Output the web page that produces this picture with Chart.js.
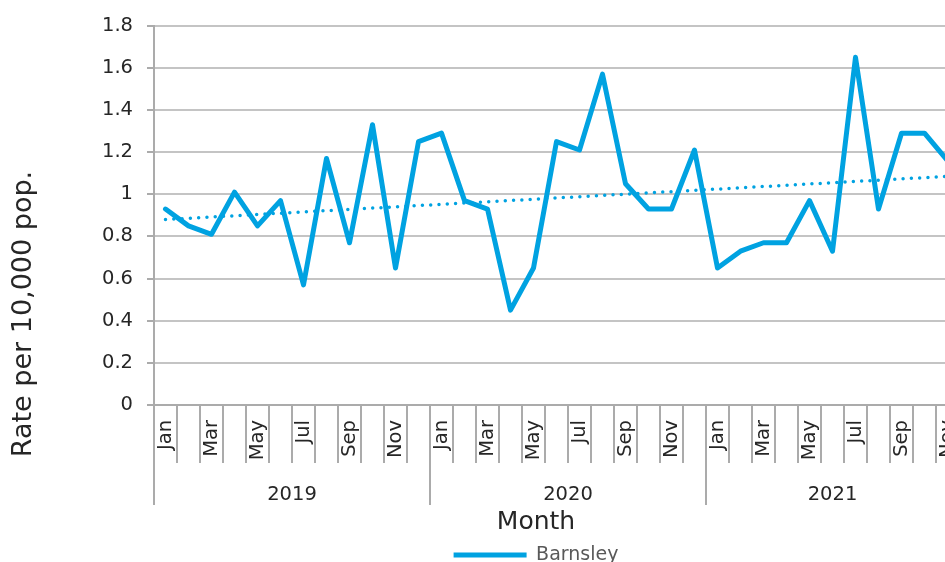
<!DOCTYPE html>
<html lang="en">
<head>
  <meta charset="UTF-8">
  <title>Barnsley - Rate per 10,000 pop.</title>
  <script src="https://cdn.jsdelivr.net/npm/chart.js"></script>
  <style>
    html, body {
      margin: 0;
      padding: 0;
      overflow: hidden;
      background: #fff;
    }
    #wrap {
      width: 1072px;
      height: 562px;
    }
  </style>
</head>
<body>
  <div id="wrap"><canvas id="rateChart" width="1072" height="562"></canvas></div>

  <script>
    // months shown on the axis (Jan 2019 - Nov 2021)
    const months = [
      'Jan 2019', 'Feb 2019', 'Mar 2019', 'Apr 2019', 'May 2019', 'Jun 2019',
      'Jul 2019', 'Aug 2019', 'Sep 2019', 'Oct 2019', 'Nov 2019', 'Dec 2019',
      'Jan 2020', 'Feb 2020', 'Mar 2020', 'Apr 2020', 'May 2020', 'Jun 2020',
      'Jul 2020', 'Aug 2020', 'Sep 2020', 'Oct 2020', 'Nov 2020', 'Dec 2020',
      'Jan 2021', 'Feb 2021', 'Mar 2021', 'Apr 2021', 'May 2021', 'Jun 2021',
      'Jul 2021', 'Aug 2021', 'Sep 2021', 'Oct 2021', 'Nov 2021'
    ];
    const years = ['2019', '2020', '2021'];
    const monthsInYear = [12, 12, 11];

    const barnsley = [
      0.93, 0.85, 0.81, 1.01, 0.85, 0.97, 0.57, 1.17, 0.77, 1.33, 0.65, 1.25,
      1.29, 0.97, 0.93, 0.45, 0.65, 1.25, 1.21, 1.57, 1.05, 0.93, 0.93, 1.21,
      0.65, 0.73, 0.77, 0.77, 0.97, 0.73, 1.65, 0.93, 1.29, 1.29, 1.16
    ];

    // linear trendline end points
    const trendStart = 0.88;
    const trendEnd = 1.085;

    const blue = '#00a2e1';
    const gridGrey = '#c4c4c4';
    const axisGrey = '#ababab';
    const textDark = '#262626';
    const fontName = '"DejaVu Sans", Verdana, sans-serif';

    // year row: separators at the year edges, label in the middle of each year
    const edges = [0];
    monthsInYear.forEach(n => edges.push(edges[edges.length - 1] + n));
    const yearTicks = [];
    years.forEach((yr, i) => {
      yearTicks.push({ value: edges[i], label: '' });
      yearTicks.push({ value: (edges[i] + edges[i + 1]) / 2, label: yr });
    });
    yearTicks.push({ value: edges[edges.length - 1], label: '' });

    // vertical axis title, centred on the whole chart height like the original
    const yTitle = {
      id: 'yTitle',
      afterDraw(chart) {
        const c = chart.ctx;
        c.save();
        c.translate(24, 314);
        c.rotate(-Math.PI / 2);
        c.textAlign = 'center';
        c.textBaseline = 'middle';
        c.font = '27px ' + fontName;
        c.fillStyle = textDark;
        c.fillText('Rate per 10,000 pop.', 0, 0);
        c.restore();
      }
    };

    const ctx = document.getElementById('rateChart').getContext('2d');

    new Chart(ctx, {
      type: 'line',
      data: {
        labels: months,
        datasets: [
          {
            label: 'Barnsley',
            data: barnsley,
            borderColor: blue,
            backgroundColor: blue,
            borderWidth: 5,
            borderCapStyle: 'round',
            borderJoinStyle: 'round',
            pointRadius: 0,
            tension: 0,
            order: 1
          },
          {
            label: 'Trend',
            data: [
              { x: months[0], y: trendStart },
              { x: months[months.length - 1], y: trendEnd }
            ],
            borderColor: blue,
            borderWidth: 3.5,
            borderDash: [0, 8.3],
            borderCapStyle: 'round',
            pointRadius: 0,
            order: 0
          }
        ]
      },
      options: {
        responsive: false,
        animation: false,
        layout: {
          padding: { left: 0, top: 25, right: 0, bottom: -12.5 }
        },
        plugins: {
          tooltip: { enabled: false },
          title: {
            display: true,
            text: 'Month',
            position: 'bottom',
            weight: 500,
            color: textDark,
            font: { family: fontName, size: 25, weight: 'normal', lineHeight: 1 },
            padding: { top: 5, bottom: 8.5 }
          },
          legend: {
            position: 'bottom',
            labels: {
              filter: item => item.datasetIndex === 0,
              usePointStyle: true,
              pointStyle: 'line',
              pointStyleWidth: 73,
              color: '#595959',
              font: { family: fontName, size: 19 },
              padding: 2
            }
          }
        },
        scales: {
          x: {
            type: 'category',
            position: 'bottom',
            weight: 0,
            offset: true,
            afterFit: s => { s.height = 58; },
            grid: {
              offset: true,
              drawOnChartArea: false,
              drawTicks: true,
              tickLength: 58,
              color: axisGrey,
              lineWidth: 2
            },
            border: { display: true, color: axisGrey, width: 2 },
            ticks: {
              autoSkip: false,
              minRotation: 90,
              maxRotation: 90,
              padding: -43,
              color: textDark,
              font: { family: fontName, size: 19.5 },
              callback: function(value, index) {
                return index % 2 === 0 ? this.getLabelForValue(value).slice(0, 3) : '';
              }
            }
          },
          year: {
            type: 'linear',
            position: 'bottom',
            weight: 1,
            min: edges[0],
            max: edges[edges.length - 1],
            afterBuildTicks: s => { s.ticks = yearTicks.map(t => ({ value: t.value })); },
            afterFit: s => { s.height = 42; },
            grid: {
              drawOnChartArea: false,
              drawTicks: true,
              tickLength: 42,
              lineWidth: 2,
              color: c => (yearTicks[c.index] && yearTicks[c.index].label === '') ? axisGrey : 'rgba(0,0,0,0)'
            },
            border: { display: false },
            ticks: {
              autoSkip: false,
              maxRotation: 0,
              padding: -22,
              color: textDark,
              font: { family: fontName, size: 19.5 },
              callback: (value, index) => yearTicks[index] ? yearTicks[index].label : ''
            }
          },
          y: {
            min: 0,
            max: 1.8,
            afterFit: s => { s.width = 154; },
            ticks: {
              stepSize: 0.2,
              padding: 14,
              color: textDark,
              font: { family: fontName, size: 19.5 },
              callback: v => String(parseFloat(v.toFixed(1)))
            },
            grid: {
              color: gridGrey,
              lineWidth: 2,
              tickLength: 7,
              tickColor: axisGrey
            },
            border: { color: axisGrey, width: 2 }
          },
          // empty strip on the right: the plot runs past the visible edge
          pad: {
            position: 'right',
            display: true,
            afterFit: s => { s.width = 113; },
            grid: { display: false },
            border: { display: false },
            ticks: { display: false }
          }
        }
      },
      plugins: [yTitle]
    });
  </script>
</body>
</html>
